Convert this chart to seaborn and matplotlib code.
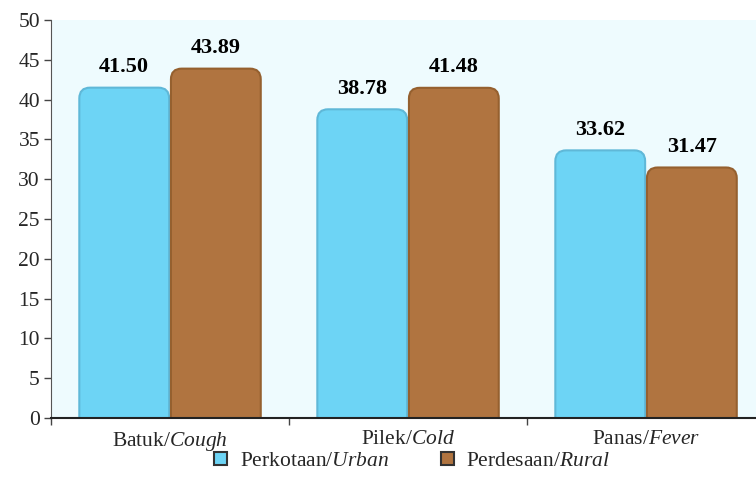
import matplotlib
matplotlib.use("Agg")
import matplotlib.pyplot as plt
from matplotlib.patches import FancyBboxPatch
import seaborn as sns
import pandas as pd

categories = ["Batuk/$\\it{Cough}$", "Pilek/$\\it{Cold}$", "Panas/$\\it{Fever}$"]
areas = ["Perkotaan/$\\it{Urban}$", "Perdesaan/$\\it{Rural}$"]
urban = [41.50, 38.78, 33.62]
rural = [43.89, 41.48, 31.47]

df = pd.DataFrame({
    "kategori": categories * 2,
    "wilayah": [areas[0]] * 3 + [areas[1]] * 3,
    "nilai": urban + rural,
})

sns.set_style("white")
plt.rcParams["font.family"] = ["Liberation Serif", "DejaVu Serif"]
plt.rcParams["mathtext.fontset"] = "custom"
plt.rcParams["mathtext.rm"] = "Liberation Serif"
plt.rcParams["mathtext.it"] = "Liberation Serif:italic"

colors = ["#6dd4f5", "#b07440"]
edge = ["#5fb8d8", "#95602f"]

fig = plt.figure(figsize=(7.56, 4.95), dpi=100)
ax = fig.add_axes([0.0675, 0.1556, 0.9325, 0.804])
ax.set_facecolor("#eefbfe")

sns.barplot(data=df, x="kategori", y="nilai", hue="wilayah", palette=colors,
            width=0.77, gap=0.02, ax=ax, legend=False, saturation=1)

# replace plain bars with rounded ones
px_x, px_y = 238.0, 398.0 / 50
r = 0.045
aspect = px_x / px_y
for i, p in enumerate(list(ax.patches)):
    x, y, w, h = p.get_x(), p.get_y(), p.get_width(), p.get_height()
    if h == 0:
        continue
    p.set_visible(False)
    k = 0 if i < 3 else 1
    fb = FancyBboxPatch((x, -2), w, h + 2,
                        boxstyle=f"round,pad=0,rounding_size={r}",
                        mutation_aspect=aspect, facecolor=colors[k],
                        edgecolor=edge[k], linewidth=1.5, zorder=2)
    ax.add_patch(fb)
    ax.text(x + w / 2, y + h + 1.3, f"{h:.2f}", ha="center", va="bottom",
            fontsize=16, fontweight="bold", color="black")

ax.set_ylim(0, 50)
ax.set_xlim(-0.5, 2.462)
ax.set_yticks(range(0, 51, 5))
ax.tick_params(axis="y", labelsize=15.5, length=5, width=1, color="#444444", left=True, pad=3)
ax.tick_params(axis="x", labelsize=15.5, length=0, pad=9)
ax.set_xticks([-0.5, 0.5, 1.5], minor=True)
ax.tick_params(axis="x", which="minor", length=5, width=1, color="#444444", bottom=True)
ax.set_xlabel("")
ax.set_ylabel("")
for s in ["top", "right"]:
    ax.spines[s].set_visible(False)
ax.spines["left"].set_color("#555555")
ax.spines["bottom"].set_color("#222222")
ax.spines["bottom"].set_linewidth(1.5)

handles = [plt.Rectangle((0, 0), 1, 1, facecolor=colors[k], edgecolor="#333333", linewidth=1.5)
           for k in range(2)]
fig.legend(handles, areas, loc="center", bbox_to_anchor=(0.545, 0.068), ncol=2,
           frameon=False, fontsize=15.5, handlelength=0.6, handleheight=0.6,
           columnspacing=2.4, handletextpad=0.6)

fig.savefig("out.png", dpi=100)
